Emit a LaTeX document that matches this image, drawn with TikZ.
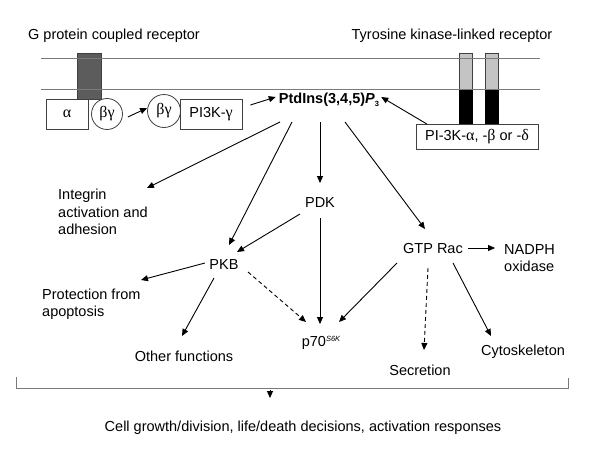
\documentclass[tikz,border=0pt]{standalone}
\usepackage{fontspec}
\setmainfont{Liberation Sans}
\newfontfamily\grkfam{Liberation Serif}
\newcommand{\grk}{\grkfam\fontsize{16}{17.5}\selectfont}
\usetikzlibrary{arrows.meta}
\definecolor{memb}{HTML}{7A7A7A}
\definecolor{boxline}{HTML}{404040}
\definecolor{gpcrfill}{HTML}{5C5C5C}
\definecolor{tyrlight}{HTML}{C4C4C4}
\tikzset{
  lbl/.style={inner sep=0pt, font=\fontsize{14.5}{17.5}\selectfont},
  mlbl/.style={lbl, align=left},
  boxed/.style={draw=boxline, line width=0.8pt, inner sep=0pt, font=\fontsize{14.5}{17.5}\selectfont},
  circ/.style={draw=boxline, line width=0.8pt, circle, inner sep=0pt, font=\fontsize{14.5}{17.5}\selectfont},
  arr/.style={-{Triangle[length=7pt,width=6pt]}, line width=0.9pt, black},
  darr/.style={arr, dash pattern=on 4pt off 3pt},
  membline/.style={draw=memb, line width=1pt},
}
\begin{document}
\begin{tikzpicture}[x=1pt,y=-1pt]
\useasboundingbox (0,0) rectangle (600,458);
% titles
\node[lbl] (gtitle) at (114,36) {G protein coupled receptor};
\node[lbl] (ttitle) at (452,36) {Tyrosine kinase-linked receptor};
% receptors
\filldraw[fill=gpcrfill, draw=boxline, line width=0.6pt] (77,53) rectangle (101,99);
\filldraw[fill=tyrlight, draw=boxline, line width=0.6pt] (459,53) rectangle (472,89);
\filldraw[fill=black, draw=black, line width=0.6pt] (459,89) rectangle (472,124);
\filldraw[fill=tyrlight, draw=boxline, line width=0.6pt] (485,53) rectangle (498,89);
\filldraw[fill=black, draw=black, line width=0.6pt] (485,89) rectangle (498,124);
% membrane
\coordinate (m1l) at (41,58); \coordinate (m1r) at (540,58);
\coordinate (m2l) at (41,89); \coordinate (m2r) at (540,89);
\draw[membline] (m1l) -- (m1r);
\draw[membline] (m2l) -- (m2r);
% G protein parts
\node[boxed, minimum width=42pt, minimum height=30pt] (alpha) at (67,114) {\grk α};
\node[circ, minimum size=31pt, fill=white] (bg1) at (107,114) {\grk βγ};
\node[circ, minimum size=33pt] (bg2) at (164,111) {\grk βγ};
\node[boxed, minimum width=62pt, minimum height=30pt] (pi3kg) at (211,114) {PI3K-{\grk γ}};
% PtdIns
\node[lbl] (ptd) at (329,100) {\bfseries PtdIns(3,4,5)\textit{P}\raisebox{-2.5pt}{\fontsize{7.5}{7.5}\selectfont 3}};
\node[boxed, minimum width=122pt, minimum height=25pt, fill=white] (pi3kab) at (477,137) {PI-3K-{\grk α}, -{\grk β} or -{\grk δ}};
% labels
\node[mlbl, anchor=west] (integ) at (58,212) {Integrin\\activation and\\adhesion};
\node[lbl] (pdk) at (320,203) {PDK};
\node[lbl] (pkb) at (224,265) {PKB};
\node[mlbl, anchor=west] (prot) at (42,304) {Protection from\\apoptosis};
\node[lbl] (other) at (184,356) {Other functions};
\node[lbl] (p70) at (321,343) {p70\raisebox{5pt}{\fontsize{7.5}{7.5}\selectfont\itshape S6K}};
\node[lbl] (gtp) at (433,249) {GTP Rac};
\node[mlbl, anchor=west] (nadph) at (504,258) {NADPH\\oxidase};
\node[lbl] (secr) at (420,370) {Secretion};
\node[lbl] (cyto) at (523,352) {Cytoskeleton};
\node[lbl] (cell) at (303,428) {Cell growth/division, life/death decisions, activation responses};
% top arrows
\draw[arr] ([shift={(5,3)}]bg1.east) -- ([shift={(0,-3)}]bg2.west);
\draw[arr] ([shift={(8,-9)}]pi3kg.east) -- ([shift={(-3,-3)}]ptd.west);
\draw[arr] ([shift={(-50,0)}]pi3kab.north) -- ([shift={(2,-3)}]ptd.east);
% from PtdIns
\draw[arr] ([shift={(-49,22)}]ptd.center) -- ([shift={(89,-24)}]integ.west);
\draw[arr] ([shift={(-37,22)}]ptd.center) -- ([shift={(5,-20)}]pkb.center);
\draw[arr] ([shift={(-9,22)}]ptd.center) -- ([shift={(0,-20)}]pdk.center);
\draw[arr] ([shift={(16,22)}]ptd.center) -- ([shift={(-8,-20)}]gtp.center);
% from PDK
\draw[arr] ([shift={(-20,11)}]pdk.center) -- ([shift={(13,-13)}]pkb.center);
\draw[arr] ([shift={(0,15)}]pdk.center) -- ([shift={(-1,-19)}]p70.center);
% from PKB
\draw[arr] ([shift={(-19,-2)}]pkb.center) -- ([shift={(99,-24)}]prot.west);
\draw[arr] ([shift={(-10,13)}]pkb.center) -- ([shift={(-2,-20)}]other.center);
\draw[darr] ([shift={(24,7)}]pkb.center) -- ([shift={(-15,-21)}]p70.center);
% from GTP Rac
\draw[arr] ([shift={(35,-1)}]gtp.center) -- ([shift={(-9,-10)}]nadph.west);
\draw[arr] ([shift={(-36,14)}]gtp.center) -- ([shift={(18,-21)}]p70.center);
\draw[darr] ([shift={(-5,19)}]gtp.center) -- ([shift={(4,-20)}]secr.center);
\draw[arr] ([shift={(20,14)}]gtp.center) -- ([shift={(-32,-16)}]cyto.center);
% bracket
\coordinate (bl) at (16,377); \coordinate (bl2) at (16,388);
\coordinate (br2) at (568,388); \coordinate (br) at (568,378);
\draw[draw=memb, line width=1pt] (bl) -- (bl2) -- (br2) -- (br);
\draw[arr] ([shift={(-33,-38)}]cell.center) -- ([shift={(-33,-30)}]cell.center);
\end{tikzpicture}
\end{document}
